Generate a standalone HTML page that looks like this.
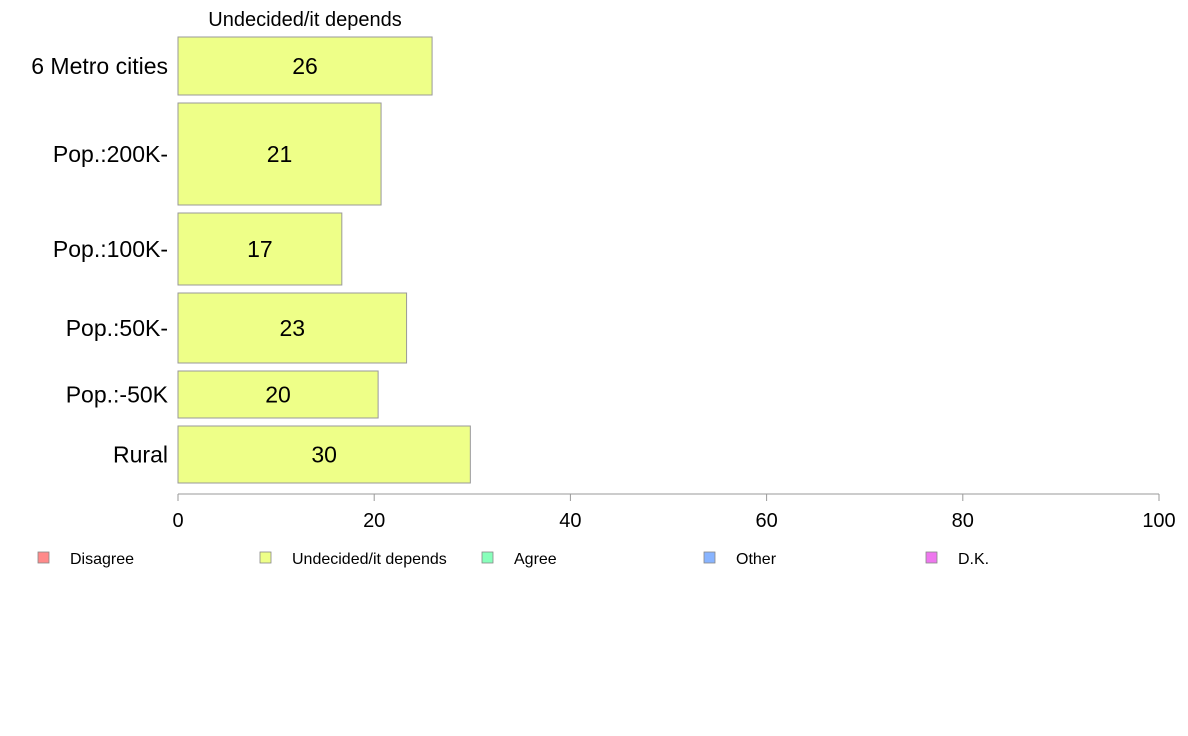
<!DOCTYPE html>
<html><head><meta charset="utf-8"><style>
html,body{margin:0;padding:0;background:#fff;}
svg{display:block;font-family:"Liberation Sans",Arial,sans-serif;}
</style></head><body>
<svg id="chart" width="1188" height="736" xmlns="http://www.w3.org/2000/svg">
<text x="305" y="26" font-size="20" text-anchor="middle">Undecided/it depends</text>
<g id="bars"></g>
<g id="axis"></g>
<g id="legend"></g>
</svg>
<script>
const categories = ["6 Metro cities","Pop.:200K-","Pop.:100K-","Pop.:50K-","Pop.:-50K","Rural"];
const values = [25.9, 20.7, 16.7, 23.3, 20.4, 29.8];
const labels = ["26","21","17","23","20","30"];
const weights = [58, 102, 72, 70, 47, 57];
const ticks = [0,20,40,60,80,100];
const legendNames = ["Disagree","Undecided/it depends","Agree","Other","D.K."];
const legendColors = ["#ff8a8a","#eeff88","#88ffbb","#88b4ff","#ee77ee"];

const NS="http://www.w3.org/2000/svg";
const x0=178, x1=1159, yTop=37, yBottom=483, gap=8;
const xs=v=>x0+(v/100)*(x1-x0);
const totalW=weights.reduce((a,b)=>a+b,0);
const avail=yBottom-yTop-gap*(weights.length-1);
function mk(tag,attrs,parent){const e=document.createElementNS(NS,tag);for(const k in attrs)e.setAttribute(k,attrs[k]);parent.appendChild(e);return e;}
const bars=document.getElementById('bars');
let yy=yTop;
categories.forEach((c,i)=>{
  const h=weights[i]/totalW*avail;
  const r=mk('rect',{x:x0,y:yy,width:xs(values[i])-x0,height:h,fill:"#eeff88",stroke:"#999","stroke-width":1},bars);
  
  
  const t=mk('text',{x:(x0+xs(values[i]))/2,y:yy+h/2+8,"font-size":23,"text-anchor":"middle"},bars);
  t.textContent=labels[i];
  
  
  const l=mk('text',{x:168,y:yy+h/2+8,"font-size":23,"text-anchor":"end"},bars);
  l.textContent=c;
  
  
  yy+=h+gap;
});
const axis=document.getElementById('axis');
const al=mk('line',{x1:x0,x2:x1,y1:494,y2:494,stroke:"#999"},axis);


ticks.forEach(t=>{
  const tl=mk('line',{x1:xs(t),x2:xs(t),y1:494,y2:501,stroke:"#999"},axis);
  
  
  const tt=mk('text',{x:xs(t),y:527,"font-size":20,"text-anchor":"middle"},axis);
  tt.textContent=t;
  
  
});
const lg=document.getElementById('legend');
legendNames.forEach((n,i)=>{
  const lx=38+i*222;
  const r=mk('rect',{x:lx,y:552,width:11,height:11,fill:legendColors[i],stroke:"#888","stroke-width":0.8},lg);
  
  
  const t=mk('text',{x:lx+32,y:564,"font-size":16},lg);
  t.textContent=n;
  
  
});
</script>
</body></html>
